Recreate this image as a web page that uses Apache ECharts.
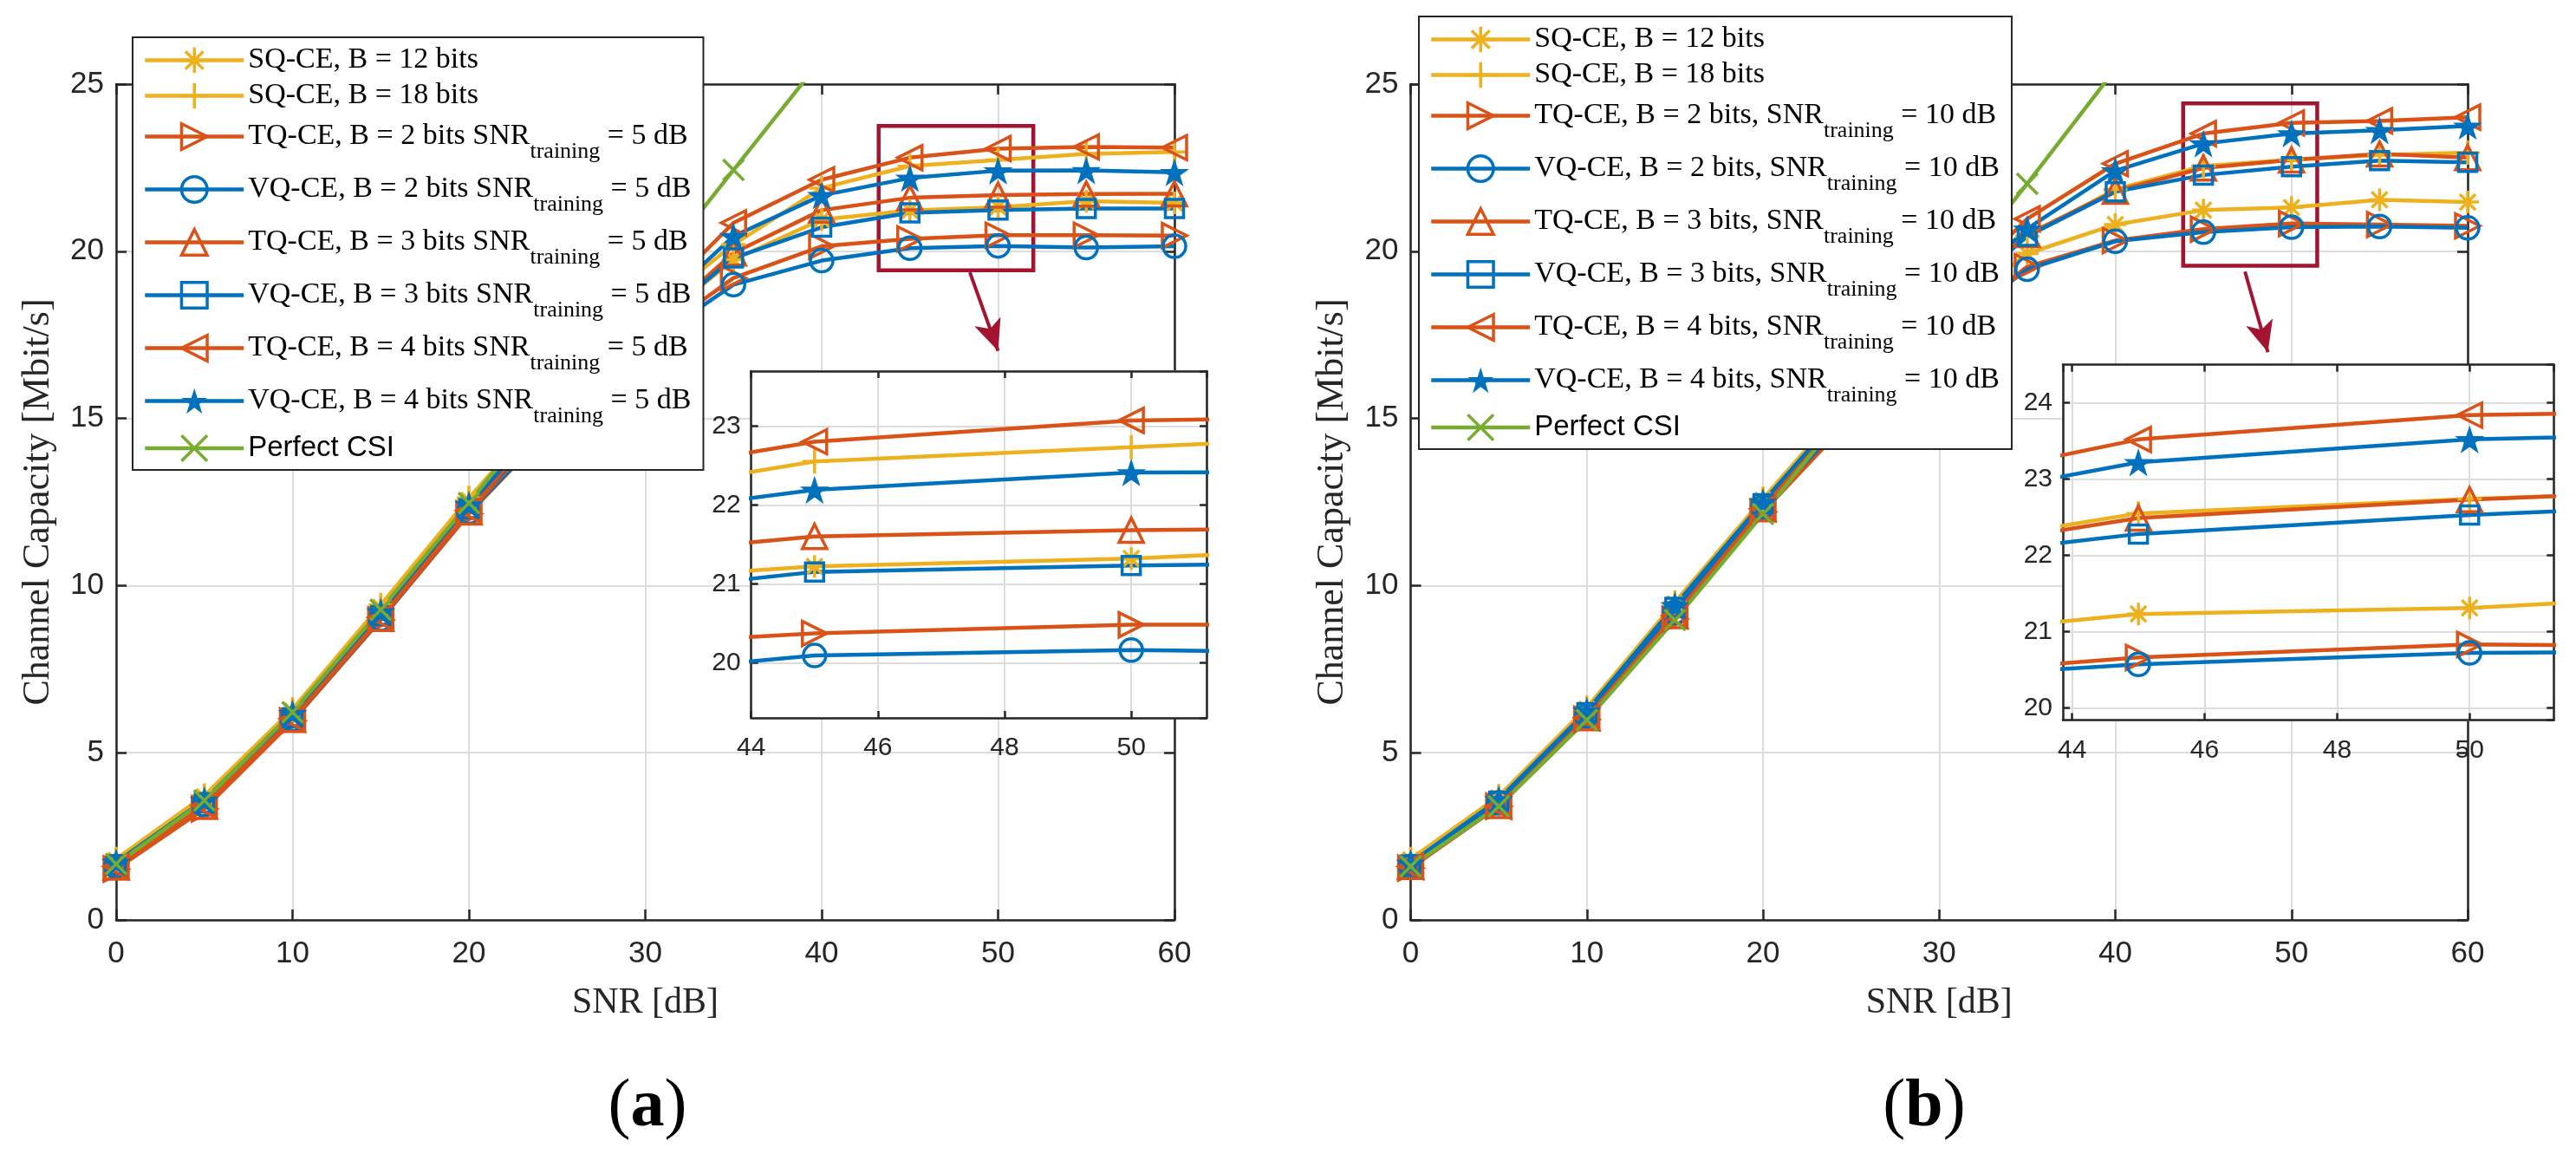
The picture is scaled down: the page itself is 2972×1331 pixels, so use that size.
<!DOCTYPE html>
<html>
<head>
<meta charset="utf-8">
<script src="https://cdn.jsdelivr.net/npm/echarts@6/dist/echarts.min.js"></script>
<style>
  html, body { margin: 0; padding: 0; background: #fff; }
  #main { width: 2972px; height: 1331px; }
</style>
</head>
<body>
<div id="main"></div>
<script>
// 横轴 SNR [dB]
const snr = [0, 5, 10, 15, 20, 25, 30, 35, 40, 45, 50, 55, 60];

// 图(a): SNR_training = 5 dB
const sq12A = [1.78, 3.68, 6.25, 9.35, 12.55, 15.4, 17.6, 19.75, 20.95, 21.22, 21.32, 21.5, 21.45];
const sq18A = [1.82, 3.72, 6.3, 9.42, 12.62, 15.6, 18.1, 20.2, 21.89, 22.55, 22.73, 22.91, 22.97];
const tq2A = [1.52, 3.32, 5.95, 8.97, 12.15, 14.9, 17.3, 19.2, 20.15, 20.37, 20.48, 20.48, 20.47];
const vq2A = [1.6, 3.45, 6.0, 9.0, 12.2, 14.9, 17.2, 19.0, 19.72, 20.09, 20.16, 20.11, 20.15];
const tq3A = [1.58, 3.4, 6.0, 9.02, 12.2, 15.1, 17.6, 19.95, 21.23, 21.6, 21.68, 21.71, 21.72];
const vq3A = [1.65, 3.5, 6.05, 9.1, 12.3, 15.1, 17.6, 19.8, 20.72, 21.15, 21.23, 21.28, 21.28];
const tq4A = [1.6, 3.42, 6.02, 9.05, 12.25, 15.3, 18.2, 20.85, 22.14, 22.8, 23.07, 23.12, 23.1];
const vq4A = [1.72, 3.58, 6.18, 9.22, 12.42, 15.3, 18.0, 20.45, 21.67, 22.19, 22.41, 22.42, 22.36];
const csiA = [1.67, 3.57, 6.21, 9.28, 12.47, 15.8, 19.1, 22.43, 25.75, 29.1, 32.4, 35.7, 39.0];

// 图(b): SNR_training = 10 dB
const sq12B = [1.8, 3.65, 6.3, 9.45, 12.55, 15.3, 17.9, 19.93, 20.8, 21.23, 21.31, 21.54, 21.47];
const sq18B = [1.82, 3.7, 6.35, 9.5, 12.6, 15.6, 18.3, 20.45, 21.85, 22.55, 22.74, 22.88, 22.95];
const tq2B = [1.55, 3.4, 6.0, 9.0, 12.2, 15.0, 17.5, 19.54, 20.32, 20.66, 20.83, 20.8, 20.76];
const vq2B = [1.6, 3.5, 6.1, 9.2, 12.35, 15.1, 17.5, 19.46, 20.3, 20.57, 20.72, 20.74, 20.7];
const tq3B = [1.6, 3.42, 6.05, 9.1, 12.3, 15.4, 18.2, 20.5, 21.8, 22.49, 22.73, 22.91, 22.8];
const vq3B = [1.65, 3.55, 6.2, 9.35, 12.45, 15.45, 18.2, 20.45, 21.78, 22.28, 22.53, 22.71, 22.66];
const tq4B = [1.6, 3.4, 6.05, 9.1, 12.3, 15.5, 18.4, 20.97, 22.62, 23.52, 23.84, 23.9, 24.01];
const vq4B = [1.7, 3.6, 6.25, 9.4, 12.5, 15.5, 18.3, 20.67, 22.41, 23.22, 23.52, 23.62, 23.75];
const csiB = [1.6, 3.4, 5.98, 8.97, 12.14, 15.4, 18.7, 22.02, 25.45, 28.8, 32.1, 35.4, 38.7];

// 图例名称
const namesA = [
  'SQ-CE, B = 12 bits',
  'SQ-CE, B = 18 bits',
  'TQ-CE, B = 2 bits SNR_training = 5 dB',
  'VQ-CE, B = 2 bits SNR_training = 5 dB',
  'TQ-CE, B = 3 bits SNR_training = 5 dB',
  'VQ-CE, B = 3 bits SNR_training = 5 dB',
  'TQ-CE, B = 4 bits SNR_training = 5 dB',
  'VQ-CE, B = 4 bits SNR_training = 5 dB',
  'Perfect CSI'
];
const namesB = [
  'SQ-CE, B = 12 bits',
  'SQ-CE, B = 18 bits',
  'TQ-CE, B = 2 bits, SNR_training = 10 dB',
  'VQ-CE, B = 2 bits, SNR_training = 10 dB',
  'TQ-CE, B = 3 bits, SNR_training = 10 dB',
  'VQ-CE, B = 3 bits, SNR_training = 10 dB',
  'TQ-CE, B = 4 bits, SNR_training = 10 dB',
  'VQ-CE, B = 4 bits, SNR_training = 10 dB',
  'Perfect CSI'
];
const valuesA = [sq12A, sq18A, tq2A, vq2A, tq3A, vq3A, tq4A, vq4A, csiA];
const valuesB = [sq12B, sq18B, tq2B, vq2B, tq3B, vq3B, tq4B, vq4B, csiB];

// 放大框 [x0, y0, x1, y1] 和箭头 [x起, y起, x止, y止]
const zoomBoxA = [43.23, 19.43, 52.0, 23.75];
const arrowA = [48.4, 19.37, 50.0, 17.02];
const zoomBoxB = [43.85, 19.57, 51.46, 24.42];
const arrowB = [47.36, 19.39, 48.66, 16.98];

// MATLAB 默认颜色
const BLUE = '#0072BD', ORANGE = '#D95319', YELLOW = '#EDB120', GREEN = '#77AC30', DARKRED = '#A2142F';
const AXIS = '#262626', GRID = '#dcdcdc';
const SANS = 'Liberation Sans, Arial, sans-serif';
const SERIF = 'Liberation Serif, Times New Roman, serif';

const styles = [
  { color: YELLOW, symbol: 'path://M0,-10L0,10M-10,0L10,0M-7,-7L7,7M-7,7L7,-7', size: 26 },
  { color: YELLOW, symbol: 'path://M0,-10L0,10M-10,0L10,0', size: 28 },
  { color: ORANGE, symbol: 'path://M-1,-1L1,0L-1,1Z', size: 28 },
  { color: BLUE, symbol: 'circle', size: 26 },
  { color: ORANGE, symbol: 'path://M0,-1L1,1L-1,1Z', size: 28 },
  { color: BLUE, symbol: 'rect', size: 21 },
  { color: ORANGE, symbol: 'path://M1,-1L-1,0L1,1Z', size: 28 },
  { color: BLUE, symbol: 'path://M0,-1L0.2245,-0.309L0.951,-0.309L0.3633,0.118L0.5878,0.809L0,0.382L-0.5878,0.809L-0.3633,0.118L-0.951,-0.309L-0.2245,-0.309Z', size: 34, filled: true },
  { color: GREEN, symbol: 'path://M-10,-10L10,10M-10,10L10,-10', size: 24 }
];

// 一条曲线
function lineSeries(name, vals, st, axisIdx, z) {
  return {
    name: name,
    type: 'line',
    xAxisIndex: axisIdx,
    yAxisIndex: axisIdx,
    z: z,
    data: snr.map(function (x, i) { return [x, vals[i]]; }),
    symbol: st.symbol,
    symbolSize: st.size,
    symbolKeepAspect: true,
    showAllSymbol: true,
    clip: true,
    silent: true,
    lineStyle: { color: st.color, width: 4.5 },
    itemStyle: st.filled ? { color: st.color } : { color: 'rgba(0,0,0,0)', borderColor: st.color, borderWidth: 3.5 },
    emphasis: { disabled: true },
    animation: false
  };
}

// 放大框 + 箭头
function zoomMarks(axisIdx, box, arrow) {
  return {
    type: 'line',
    xAxisIndex: axisIdx,
    yAxisIndex: axisIdx,
    data: [],
    z: 3,
    silent: true,
    animation: false,
    markArea: {
      silent: true,
      label: { show: false },
      itemStyle: { color: 'rgba(0,0,0,0)', borderColor: DARKRED, borderWidth: 4.5 },
      data: [[{ coord: [box[0], box[3]] }, { coord: [box[2], box[1]] }]]
    },
    markLine: {
      silent: true,
      symbol: ['none', 'arrow'],
      symbolSize: [24, 36],
      label: { show: false },
      lineStyle: { color: DARKRED, width: 4, type: 'solid' },
      data: [[{ coord: [arrow[0], arrow[1]] }, { coord: [arrow[2], arrow[3]] }]]
    }
  };
}

// 每个 grid 四条轴 (下/上, 左/右)，MATLAB 风格的框和内刻度
function axisPair(dim, grid, range, interval, opt) {
  let base = {
    type: 'value',
    gridIndex: grid,
    min: range[0],
    max: range[1],
    z: opt.z,
    axisLine: { show: true, onZero: false, lineStyle: { color: AXIS, width: 2.5 } },
    axisTick: { show: true, inside: true, length: opt.tick, lineStyle: { color: AXIS, width: 2.5 } },
    splitLine: { show: false },
    axisLabel: { show: false }
  };
  if (interval) base.interval = interval; else base.splitNumber = 4;
  let first = Object.assign({}, base, {
    position: dim === 'x' ? 'bottom' : 'left',
    splitLine: { show: true, lineStyle: { color: GRID, width: 2 } },
    axisLabel: {
      show: true, color: AXIS, fontFamily: SANS, fontSize: opt.font, margin: opt.margin,
      showMinLabel: opt.showMin, showMaxLabel: opt.showMax
    }
  });
  if (opt.name) {
    first.name = opt.name;
    first.nameLocation = 'middle';
    first.nameGap = opt.nameGap;
    first.nameMoveOverlap = false;
    first.nameTextStyle = { fontFamily: SERIF, fontSize: opt.nameSize, color: AXIS };
  }
  let second = Object.assign({}, base, { position: dim === 'x' ? 'top' : 'right' });
  return [first, second];
}

function legendText(name) {
  if (name === 'Perfect CSI') return '{h|Perfect CSI}';
  let parts = name.split('_training');
  if (parts.length === 1) return '{n|' + name + '}';
  return '{n|' + parts[0] + '}{s|training}{n|' + parts[1] + '}';
}

function makeLegend(names, left, top) {
  return {
    orient: 'vertical',
    left: left,
    top: top,
    data: names,
    formatter: legendText,
    selectedMode: false,
    itemWidth: 114,
    itemHeight: 37,
    itemGap: 7,
    padding: [9.5, 14, 8.5, 12],
    backgroundColor: '#fff',
    borderColor: AXIS,
    borderWidth: 2,
    borderRadius: 0,
    lineStyle: { width: 4.5 },
    itemStyle: { borderWidth: 3.5 },
    textStyle: {
      color: '#000',
      rich: {
        n: { fontFamily: SERIF, fontSize: 34, lineHeight: 37, color: '#000' },
        s: { fontFamily: SERIF, fontSize: 26, height: 10, lineHeight: 46, padding: [36, 0, 0, 0], color: '#000' },
        h: { fontFamily: SANS, fontSize: 33, lineHeight: 37, color: '#000' }
      }
    }
  };
}

let chartDom = document.getElementById('main');
let mychart = echarts.init(chartDom, null, { renderer: 'canvas' });

let grids = [
  { left: 134, top: 97, width: 1221, height: 964 },
  { left: 1627.5, top: 97, width: 1219.5, height: 964 },
  { left: 866.7, top: 428, width: 525.4, height: 400, z: 10 },
  { left: 2380, top: 420.7, width: 566.3, height: 409.7, z: 10 }
].map(function (g, i) {
  return Object.assign({
    show: i >= 2,
    backgroundColor: '#fff',
    borderWidth: 0,
    containLabel: false,
    outerBoundsMode: 'none'
  }, g);
});

let mainX = { z: 0, tick: 12, font: 35, margin: 22, showMin: true, showMax: true, name: 'SNR [dB]', nameGap: 75, nameSize: 42 };
let mainY = { z: 0, tick: 12, font: 35, margin: 14, showMin: true, showMax: true, name: 'Channel Capacity [Mbit/s]', nameGap: 68, nameSize: 44 };
let insetXA = { z: 11, tick: 8, font: 30, margin: 20, showMin: true, showMax: false };
let insetXB = { z: 11, tick: 8, font: 30, margin: 20, showMin: false, showMax: false };
let insetY = { z: 11, tick: 8, font: 30, margin: 12, showMin: false, showMax: false };

let xAxes = [].concat(
  axisPair('x', 0, [0, 60], 10, mainX),
  axisPair('x', 1, [0, 60], 10, mainX),
  axisPair('x', 2, [44, 51.19], 2, insetXA),
  axisPair('x', 3, [43.86, 51.27], null, insetXB)
);
let yAxes = [].concat(
  axisPair('y', 0, [0, 25], 5, mainY),
  axisPair('y', 1, [0, 25], 5, mainY),
  axisPair('y', 2, [19.3, 23.695], null, insetY),
  axisPair('y', 3, [19.84, 24.5], null, insetY)
);

let series = [];
// 主图
namesA.forEach(function (n, i) { series.push(lineSeries(n, valuesA[i], styles[i], 0, 2)); });
namesB.forEach(function (n, i) { series.push(lineSeries(n, valuesB[i], styles[i], 2, 2)); });
// 放大图
namesA.forEach(function (n, i) { series.push(lineSeries(n, valuesA[i], styles[i], 4, 12)); });
namesB.forEach(function (n, i) { series.push(lineSeries(n, valuesB[i], styles[i], 6, 12)); });
series.push(zoomMarks(0, zoomBoxA, arrowA));
series.push(zoomMarks(2, zoomBoxB, arrowB));

function panelLabel(letter, x) {
  return {
    type: 'text',
    x: x,
    y: 1278,
    silent: true,
    style: {
      text: '{p|(}{b|' + letter + '}{p|)}',
      align: 'center',
      verticalAlign: 'middle',
      rich: {
        p: { fontFamily: SERIF, fontSize: 78, fill: '#000', color: '#000' },
        b: { fontFamily: SERIF, fontSize: 78, fontWeight: 'bold', fill: '#000', color: '#000' }
      }
    }
  };
}

let option = {
  backgroundColor: '#fff',
  animation: false,
  textStyle: { fontFamily: SANS },
  grid: grids,
  xAxis: xAxes,
  yAxis: yAxes,
  legend: [makeLegend(namesA, 153, 43), makeLegend(namesB, 1637, 19)],
  series: series,
  graphic: [panelLabel('a', 747), panelLabel('b', 2220)]
};
option && mychart.setOption(option);
</script>
</body>
</html>
